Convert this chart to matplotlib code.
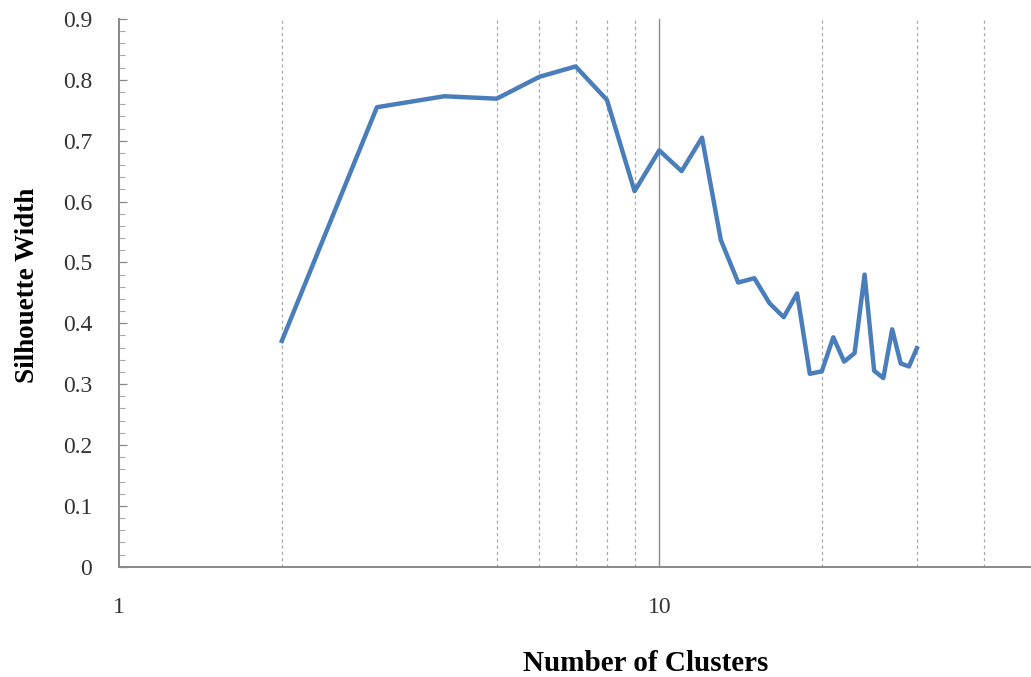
import matplotlib
matplotlib.use("Agg")
import matplotlib.pyplot as plt
from matplotlib.ticker import FixedLocator, MultipleLocator, NullFormatter

# Average silhouette width for each number of clusters
clusters = list(range(2, 31))
silhouette = [0.371, 0.755, 0.773, 0.769, 0.805, 0.822, 0.767, 0.617, 0.684,
              0.650, 0.705, 0.537, 0.467, 0.474, 0.433, 0.410, 0.449, 0.317,
              0.321, 0.377, 0.337, 0.351, 0.480, 0.322, 0.310, 0.390, 0.334,
              0.329, 0.359]

# Reference lines along the cluster axis
dashed_grid = [2, 5, 6, 7, 8, 9, 20, 30, 40]
solid_grid = [10]
x_tick_labels = ["1", "10"]

plt.rcParams["font.family"] = ["Liberation Serif", "DejaVu Serif"]

fig = plt.figure(figsize=(10.31, 6.77), dpi=100)
ax = fig.add_axes([0.1157, 0.1629, 0.8843, 0.8091])

ax.plot(clusters, silhouette, color="#4a7ebb", linewidth=3.2,
        solid_joinstyle="round", zorder=3)

ax.set_xscale("log")
ax.set_xlim(1, 48.8)
ax.set_ylim(0, 0.9)

# x axis: labelled decades, dashed lines at selected counts
ax.xaxis.set_major_locator(FixedLocator([1, 10]))
ax.set_xticklabels(x_tick_labels)
ax.xaxis.set_minor_locator(FixedLocator(dashed_grid))
ax.xaxis.set_minor_formatter(NullFormatter())
ax.tick_params(axis="x", which="both", length=0, pad=22,
               labelsize=17, labelcolor="#333333")
for x in dashed_grid:
    ax.axvline(x, color="#a8a8a8", linewidth=0.9, linestyle=(0, (2.5, 2.5)),
               zorder=1)
for x in solid_grid:
    ax.axvline(x, color="#8a8a8a", linewidth=1.0, zorder=1)

# y axis
ax.yaxis.set_major_locator(MultipleLocator(0.1))
ax.yaxis.set_minor_locator(MultipleLocator(0.02))
ax.yaxis.set_major_formatter(lambda v, p: "0" if abs(v) < 1e-9 else f"{v:.1f}")
ax.tick_params(axis="y", which="major", direction="in", length=6, width=0.9,
               color="#888888", pad=19.5, labelsize=17, labelcolor="#333333")
ax.tick_params(axis="y", which="minor", direction="in", length=4, width=0.8,
               color="#aaaaaa")

for side in ("top", "right"):
    ax.spines[side].set_visible(False)
for side in ("left", "bottom"):
    ax.spines[side].set_color("#888888")
    ax.spines[side].set_linewidth(1.4)

ax.set_xlabel("Number of Clusters", fontsize=21, fontweight="bold")
ax.xaxis.set_label_coords(0.577, -0.176)
ax.xaxis.label.set_va("center")
ax.set_ylabel("Silhouette Width", fontsize=19.5, fontweight="bold")
ax.yaxis.set_label_coords(-0.101, 0.514)
ax.yaxis.label.set_va("center")

fig.savefig("out.png", dpi=100)
